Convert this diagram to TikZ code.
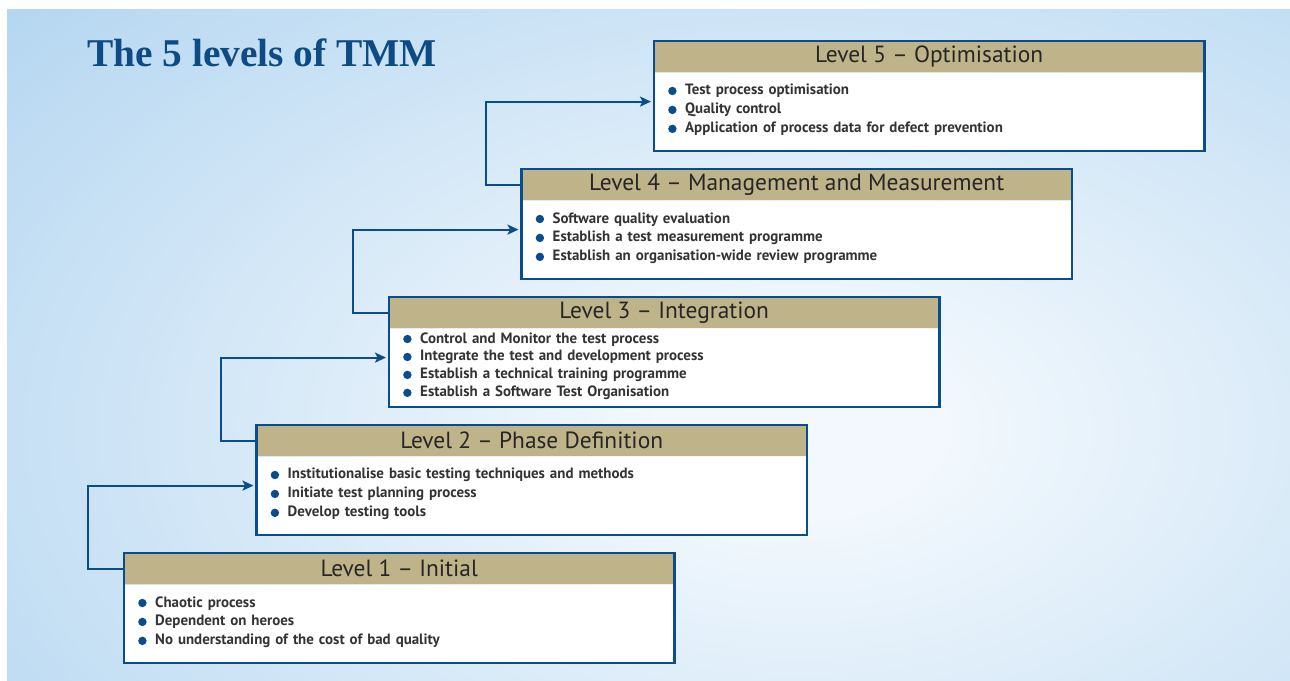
\documentclass[tikz,border=0pt]{standalone}
\usepackage{fontspec}
\setmainfont{PT Sans}
\newfontfamily\titlefont{Liberation Serif}
\usetikzlibrary{positioning,arrows.meta}

\definecolor{tmmblue}{HTML}{0B4C8C}
\definecolor{titleblue}{HTML}{0E4A83}
\definecolor{tmmtan}{HTML}{BFB38A}
\definecolor{headtext}{HTML}{262626}
\definecolor{itemtext}{HTML}{333333}
\definecolor{bgin}{HTML}{F2F8FD}
\definecolor{bgout}{HTML}{A2CCED}

\pgfdeclareradialshading{tmmbg}{\pgfpoint{0bp}{0bp}}{%
  color(0bp)=(bgin); color(4bp)=(bgin); color(37bp)=(bgout); color(80bp)=(bgout)}

\tikzset{
  header/.style={fill=tmmtan, minimum width=550bp, minimum height=31bp,
    inner sep=0pt, anchor=north west, text=headtext,
    font=\fontsize{23.5}{25}\selectfont},
  body/.style={fill=white, minimum height=78bp, text width=522bp,
    inner xsep=14bp, inner ysep=0pt, align=left, text=itemtext,
    font=\fontsize{15}{19}\selectfont\bfseries,
    execute at end node={\rule[-6bp]{0pt}{0pt}}},
  frame/.style={draw=tmmblue, line width=2.5bp},
  link/.style={draw=tmmblue, line width=2bp,
    -{Stealth[length=11bp,width=10bp,inset=2.5bp]}, shorten >=3bp},
  title/.style={text=titleblue, inner sep=0pt,
    font=\titlefont\bfseries\fontsize{39.5}{44}\selectfont},
}

\newcommand{\bul}{\makebox[17bp][l]{\tikz[baseline=-4bp]\fill[tmmblue] (0,0) circle (4.2bp);}}

\begin{document}
\begin{tikzpicture}[x=1bp, y=-1bp]
  % Parameters definitions
  \def\stepx{132.5} % horizontal step between levels
  \def\stepy{128}   % vertical step between levels
  \def\lvx{124}     % left of level 1
  \def\lvy{553}     % top of level 1
  \def\back{36}     % how far the links go left

  \useasboundingbox (0,0) rectangle (1290,681);

  % Background
  \begin{scope}
    \clip (7,10) rectangle (1290,680);
    \shade[shading=tmmbg] (-100,-120) rectangle (1700,980);
  \end{scope}

  \node[title, anchor=base west] (title) at (87,67) {The 5 levels of TMM};

  % Level 1
  \node[header] (h1) at (\lvx, \lvy) {Level 1 -- Initial};
  \node[body, below=0pt of h1] (b1) {%
    \bul Chaotic process\\
    \bul Dependent on heroes\\
    \bul No understanding of the cost of bad quality};
  \draw[frame] (h1.north west) rectangle (b1.south east);

  % Level 2
  \node[header] (h2) at (\lvx+\stepx, \lvy-\stepy) {Level 2 -- Phase Definition};
  \node[body, below=0pt of h2] (b2) {%
    \bul Institutionalise basic testing techniques and methods\\
    \bul Initiate test planning process\\
    \bul Develop testing tools};
  \draw[frame] (h2.north west) rectangle (b2.south east);

  % Level 3
  \node[header] (h3) at (\lvx+2*\stepx, \lvy-2*\stepy) {Level 3 -- Integration};
  \node[body, below=0pt of h3, font=\fontsize{15}{18}\selectfont\bfseries] (b3) {%
    \bul Control and Monitor the test process\\
    \bul Integrate the test and development process\\
    \bul Establish a technical training programme\\
    \bul Establish a Software Test Organisation};
  \draw[frame] (h3.north west) rectangle (b3.south east);

  % Level 4
  \node[header] (h4) at (\lvx+3*\stepx, \lvy-3*\stepy) {Level 4 -- Management and Measurement};
  \node[body, below=0pt of h4] (b4) {%
    \bul Software quality evaluation\\
    \bul Establish a test measurement programme\\
    \bul Establish an organisation-wide review programme};
  \draw[frame] (h4.north west) rectangle (b4.south east);

  % Level 5
  \node[header] (h5) at (\lvx+4*\stepx, \lvy-4*\stepy) {Level 5 -- Optimisation};
  \node[body, below=0pt of h5] (b5) {%
    \bul Test process optimisation\\
    \bul Quality control\\
    \bul Application of process data for defect prevention};
  \draw[frame] (h5.north west) rectangle (b5.south east);

  % Links between levels
  \draw[link] (h1.west) -- ++(-\back,0) |- ([yshift=10bp]b2.west);
  \draw[link] (h2.west) -- ++(-\back,0) |- ([yshift=10bp]b3.west);
  \draw[link] (h3.west) -- ++(-\back,0) |- ([yshift=10bp]b4.west);
  \draw[link] (h4.west) -- ++(-\back,0) |- ([yshift=10bp]b5.west);
\end{tikzpicture}
\end{document}
